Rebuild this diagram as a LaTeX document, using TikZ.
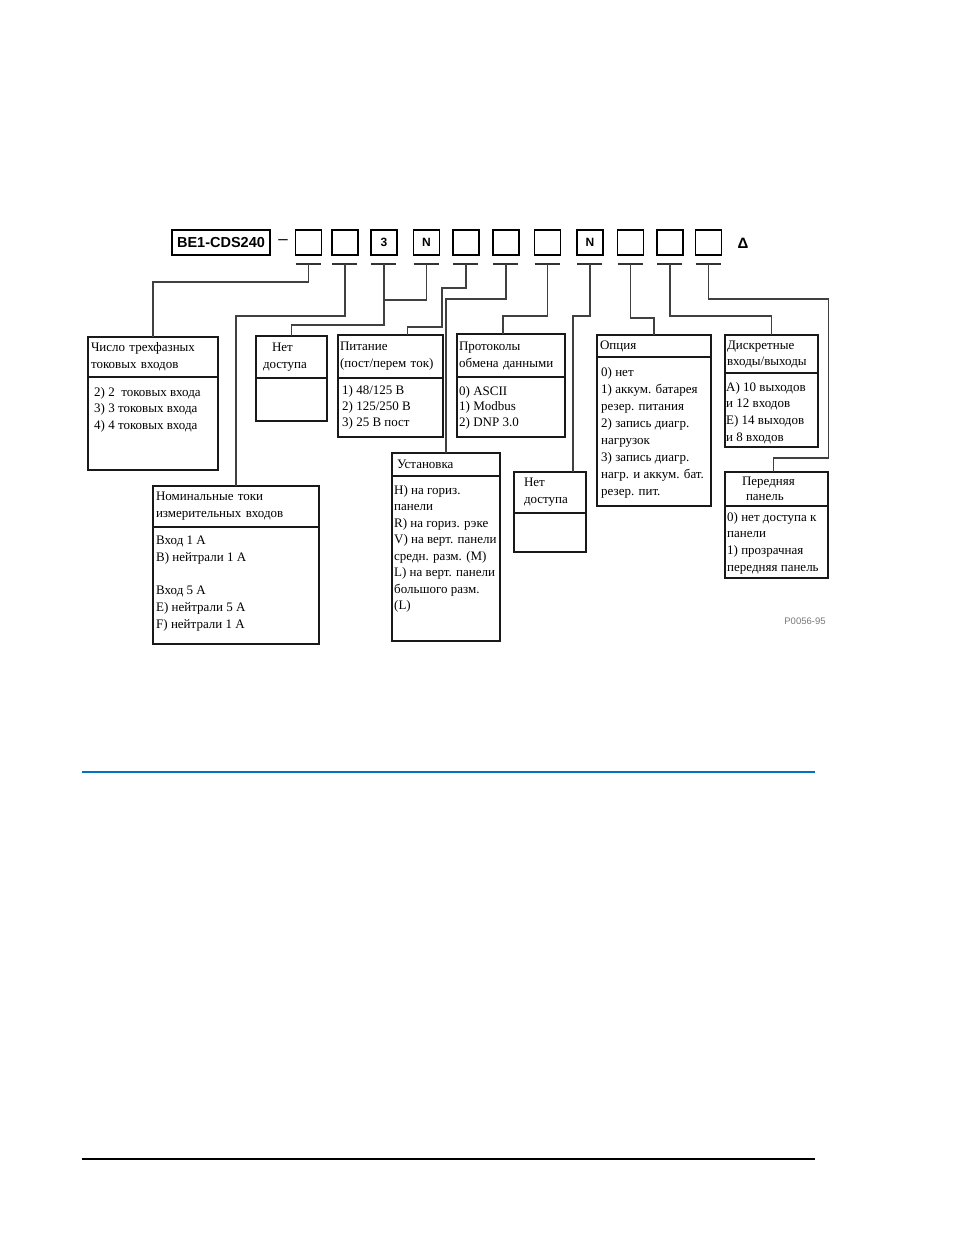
\documentclass[tikz,border=0pt]{standalone}
\usepackage{fontspec}
\setmainfont{Liberation Serif}
\setsansfont{Liberation Sans}
\usepackage{tikz}
\usetikzlibrary{calc,positioning}
\definecolor{rulblue}{RGB}{0,114,198}
\definecolor{codegray}{RGB}{120,120,120}
\tikzset{
    cell/.style={
        draw, line width=1.4pt,
        minimum width=26pt, minimum height=25pt,
        inner sep=0pt,
        font=\sffamily\bfseries\fontsize{12}{12}\selectfont
    },
    % header part of a box
    hdr/.style={
        draw, line width=1.4pt, black!90,
        anchor=north west, inner xsep=3pt, inner ysep=0pt, outer sep=0pt,
        align=left, text=black,
        font=\fontsize{13}{17}\selectfont
    },
    bodybox/.style={
        draw, line width=1.4pt, black!90,
        anchor=north west, inner sep=0pt, outer sep=0pt
    },
    bodytxt/.style={
        anchor=north west, inner sep=0pt, align=left,
        font=\fontsize{13}{16.7}\selectfont
    },
    lead/.style={line width=1.6pt, black!75},
    uline/.style={line width=2pt, black!80}
}

\begin{document}
\begin{tikzpicture}[x=1pt, y=-1pt]
        \useasboundingbox (0,0) rectangle (954,1235);

        % model code line
        \node[draw, line width=1.4pt, minimum width=98pt, minimum height=25pt, inner sep=0pt,
              font=\sffamily\bfseries\fontsize{14.5}{14.5}\selectfont] (model) at (221,242.5) {BE1-CDS240};
        \node[font=\sffamily\fontsize{17}{17}\selectfont, inner sep=0pt] (dash) at (283,242) {--};

        \foreach \n/\x/\t in {1/308.5/{},2/345/{},3/384/3,4/426.5/N,5/466/{},6/506/{},7/547.5/{},8/590/N,9/630.5/{},10/670/{},11/708.5/{}}{
            \node[cell] (c\n) at (\x,242.5) {\t};
            \coordinate (u\n) at ([yshift=-8pt]c\n.south);
            \draw[uline] ([xshift=-13pt]u\n) -- ([xshift=12pt]u\n);
        }
        \node[font=\sffamily\bfseries\fontsize{15}{15}\selectfont, inner sep=0pt] (tri) at (743,243) {Δ};

        % boxes
        \node[hdr, minimum width=130pt, text width=124pt, minimum height=40pt] (chislo) at (88,337) {Число трехфазных\\токовых входов};
        \node[bodybox, minimum width=130pt, minimum height=93pt] (chisloB) at (chislo.south west) {};
        \node[bodytxt] (chisloT) at ([shift={(6,10)}]chisloB.north west) {2)~2~~токовых входа\\3) 3 токовых входа\\4) 4 токовых входа};

        \node[hdr, minimum width=166pt, text width=160pt, minimum height=41pt] (nom) at (153,486) {Номинальные токи\\измерительных входов};
        \node[bodybox, minimum width=166pt, minimum height=117pt] (nomB) at (nom.south west) {};
        \node[bodytxt] (nomT) at ([shift={(3,9)}]nomB.north west) {Вход 1 А\\B) нейтрали 1 А\\[16.7pt]Вход 5 А\\E) нейтрали 5 А\\F) нейтрали 1 А};

        \node[hdr, minimum width=71pt, text width=65pt, minimum height=42pt] (net1) at (256,336) {\hspace*{13pt}Нет\\\hspace*{4pt}доступа};
        \node[bodybox, minimum width=71pt, minimum height=43pt] (net1B) at (net1.south west) {};

        \node[hdr, minimum width=105pt, text width=101pt, minimum height=43pt, inner xsep=2pt] (pit) at (338,335) {Питание\\(пост/перем ток)};
        \node[bodybox, minimum width=105pt, minimum height=59pt] (pitB) at (pit.south west) {};
        \node[bodytxt, font=\fontsize{13}{16}\selectfont] (pitT) at ([shift={(4,7)}]pitB.north west) {1) 48/125 В\\2) 125/250 В\\3) 25 В пост};

        \node[hdr, minimum width=108pt, text width=104pt, minimum height=43pt, inner xsep=2pt] (prot) at (457,334) {Протоколы\\обмена данными};
        \node[bodybox, minimum width=108pt, minimum height=60pt] (protB) at (prot.south west) {};
        \node[bodytxt, font=\fontsize{13}{15.5}\selectfont] (protT) at ([shift={(2,9)}]protB.north west) {0) ASCII\\1) Modbus\\2) DNP 3.0};

        \node[hdr, minimum width=108pt, text width=98pt, minimum height=23pt, inner xsep=5pt] (ust) at (392,453) {Установка};
        \node[bodybox, minimum width=108pt, minimum height=165pt] (ustB) at (ust.south west) {};
        \node[bodytxt, font=\fontsize{13}{16.5}\selectfont] (ustT) at ([shift={(2,9)}]ustB.north west) {H) на гориз.\\панели\\R) на гориз. рэке\\V) на верт. панели\\средн. разм. (M)\\L) на верт. панели\\большого разм.\\(L)};

        \node[hdr, minimum width=72pt, text width=52pt, minimum height=41pt, inner xsep=10pt] (net2) at (514,472) {Нет\\доступа};
        \node[bodybox, minimum width=72pt, minimum height=39pt] (net2B) at (net2.south west) {};

        \node[hdr, minimum width=114pt, text width=108pt, minimum height=22pt] (opc) at (597,335) {Опция};
        \node[bodybox, minimum width=114pt, minimum height=149pt] (opcB) at (opc.south west) {};
        \node[bodytxt, font=\fontsize{13}{17}\selectfont] (opcT) at ([shift={(4,10)}]opcB.north west) {0) нет\\1) аккум. батарея\\резер. питания\\2) запись диагр.\\нагрузок\\3) запись диагр.\\нагр. и аккум. бат.\\резер. пит.};

        \node[hdr, minimum width=93pt, text width=89pt, minimum height=38pt, inner xsep=2pt, font=\fontsize{13}{16}\selectfont] (disk) at (725,335) {Дискретные\\входы/выходы};
        \node[bodybox, minimum width=93pt, minimum height=74pt] (diskB) at (disk.south west) {};
        \node[bodytxt] (diskT) at ([shift={(1,9)}]diskB.north west) {A) 10 выходов\\и 12 входов\\E) 14 выходов\\и 8 входов};

        \node[hdr, minimum width=103pt, text width=99pt, minimum height=34pt, inner xsep=2pt, font=\fontsize{13}{15}\selectfont] (pered) at (725,472) {\hspace*{15pt}Передняя\\\hspace*{19pt}панель};
        \node[bodybox, minimum width=103pt, minimum height=72pt] (peredB) at (pered.south west) {};
        \node[bodytxt] (peredT) at ([shift={(2,6)}]peredB.north west) {0) нет доступа к\\панели\\1) прозрачная\\передняя панель};

        \node[font=\sffamily\fontsize{9.5}{9.5}\selectfont, text=codegray, inner sep=0pt] (pno) at (805,621) {P0056-95};

        % leaders
        \draw[lead] (u1) -- ++(0,18) -| (chislo.north);
        \draw[lead] (u2) -- ++(0,52) -| (nom.north);
        \draw[lead] (u3) -- ++(0,61) -| (net1.north);
        \draw[lead] (u4) |- ($(u3)+(0,36)$);
        \draw[lead] (u5) -- ++(0,24) -| ++(-24,39) -| ([xshift=17pt]pit.north);
        \draw[lead] (u6) -- ++(0,35) -| (ust.north);
        \draw[lead] (u7) -- ++(0,52) -| ([xshift=-8pt]prot.north);
        \draw[lead] (u8) -- ++(0,52) -| ([xshift=23pt]net2.north);
        \draw[lead] (u9) -- ++(0,54) -| (opc.north);
        \draw[lead] (u10) -- ++(0,52) -| (disk.north);
        \draw[lead] (u11) -- ++(0,35) -| ++(120,159) -| ([xshift=-3pt]pered.north);

        % page rules
        \draw[line width=1.6pt, rulblue] (82,772) -- (815,772);
        \draw[line width=1.6pt, black] (82,1159) -- (815,1159);
\end{tikzpicture}
\end{document}
